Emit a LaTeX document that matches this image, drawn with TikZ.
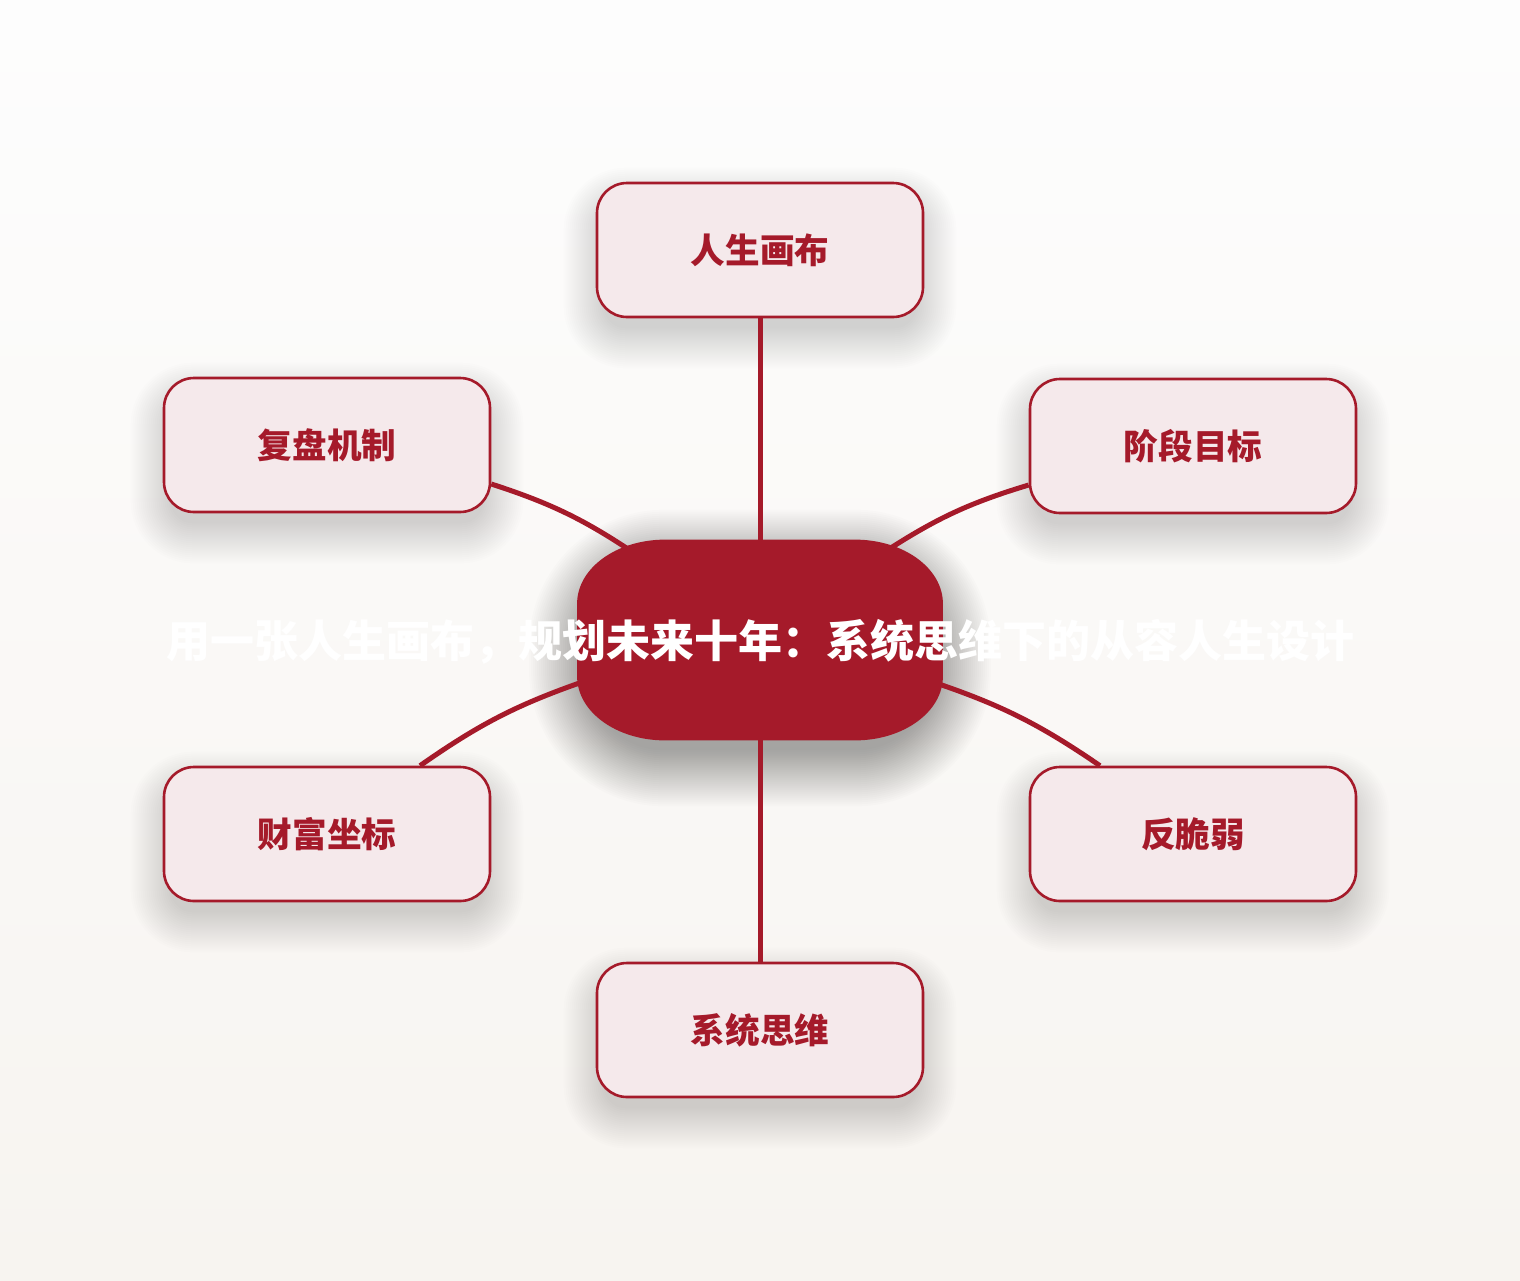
\documentclass[tikz,border=0pt]{standalone}
\usepackage{fontspec}
\newfontfamily\cjk{Noto Sans CJK SC}
\pgfdeclarelayer{bg}
\pgfdeclarelayer{shadowlayer}
\pgfdeclarelayer{lines}
\pgfsetlayers{bg,shadowlayer,lines,main}
\definecolor{dred}{HTML}{A51A2A}
\definecolor{bfill}{HTML}{F5E9EB}
\definecolor{bgtop}{HTML}{FDFDFD}
\definecolor{bgbot}{HTML}{F7F4F0}
% soft drop shadow under a node: #1 name, #2 corner radius in pt, #3 opacity per step, #4 steps, #5 down offset (px)
\newcommand\softdrop[5]{%
  \foreach \i in {0,...,#4}{%
    \pgfmathsetmacro\rr{max(#2+(\i-4)*1,2)}%
    \pgfmathsetmacro\ee{-8+\i*2}%
    \fill[black, opacity=#3, rounded corners=\rr pt]
      ([shift={({-\ee},{#5-\ee})}]#1.north west) rectangle
      ([shift={({\ee},{#5+\ee})}]#1.south east);
  }}
\begin{document}
\begin{tikzpicture}[x=0.5pt,y=-0.5pt,
  box/.style={draw=dred, line width=1.3pt, fill=bfill, rounded corners=15pt,
    minimum width=163pt, minimum height=67pt, inner sep=0pt, text=dred,
    font=\cjk\bfseries\fontsize{17.3}{20}\selectfont},
  conn/.style={draw=dred, line width=2.5pt},
  hub/.style={minimum width=182.5pt, minimum height=100pt, inner sep=0pt},
  title/.style={text=white, font=\cjk\bfseries\fontsize{22}{26}\selectfont, inner sep=0pt}]
\useasboundingbox (0,0) rectangle (1520,1280);
\begin{pgfonlayer}{bg}
  \shade[top color=bgtop, bottom color=bgbot] (0,0) rectangle (1520,1280);
\end{pgfonlayer}

% boxes
\node[box] (t)  at (760,250)  {\raisebox{-1.5pt}{人生画布}};
\node[box] (ul) at (327,445)  {\raisebox{-1.5pt}{复盘机制}};
\node[box] (ur) at (1193,446) {\raisebox{-1.5pt}{阶段目标}};
\node[box] (ll) at (327,834)  {\raisebox{-1.5pt}{财富坐标}};
\node[box] (lr) at (1193,834) {\raisebox{-1.5pt}{反脆弱}};
\node[box] (b)  at (760,1030) {\raisebox{-1.5pt}{系统思维}};

% hub
\node[hub] (c) at (760,640) {};
\fill[dred] ([shift={(88,0)}]c.north west) -- ([shift={(-88,0)}]c.north east)
  arc[start angle=90, end angle=0, x radius=44pt, y radius=32pt]
  -- ([shift={(0,-64)}]c.south east)
  arc[start angle=0, end angle=-90, x radius=44pt, y radius=32pt]
  -- ([shift={(88,0)}]c.south west)
  arc[start angle=270, end angle=180, x radius=44pt, y radius=32pt]
  -- ([shift={(0,64)}]c.north west)
  arc[start angle=180, end angle=90, x radius=44pt, y radius=32pt]
  -- cycle;
\node[title] (title) at (760,642) {用一张人生画布，规划未来十年：系统思维下的从容人生设计};

% shadows
\begin{pgfonlayer}{shadowlayer}
  \softdrop{t}{15}{0.009}{20}{18}
  \softdrop{ul}{15}{0.009}{20}{18}
  \softdrop{ur}{15}{0.009}{20}{18}
  \softdrop{ll}{15}{0.009}{20}{18}
  \softdrop{lr}{15}{0.009}{20}{18}
  \softdrop{b}{15}{0.009}{20}{18}
  \softdrop{c}{44}{0.011}{28}{18}
\end{pgfonlayer}

% connectors
\begin{pgfonlayer}{lines}
  \draw[conn] (c.north) -- (t.south);
  \draw[conn] (c.south) -- (b.north);
  \draw[conn] ([shift={(-123,-85)}]c.center) to[bend right=8] ([shift={(0,39)}]ul.east);
  \draw[conn] ([shift={(126,-89)}]c.center) to[bend left=8] ([shift={(0,39)}]ur.west);
  \draw[conn] ([shift={(-172,40)}]c.center) to[bend right=8] ([shift={(93,0)}]ll.north);
  \draw[conn] ([shift={(170,41)}]c.center) to[bend left=8] ([shift={(-93,0)}]lr.north);
\end{pgfonlayer}
\end{tikzpicture}
\end{document}
